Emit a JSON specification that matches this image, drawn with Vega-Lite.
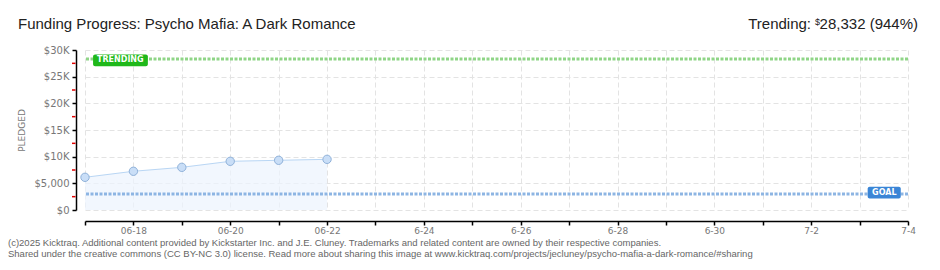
{
  "$schema": "https://vega.github.io/schema/vega-lite/v6.json",
  "width": 823,
  "height": 160,
  "autosize": {"type": "none"},
  "padding": {"left": 85, "top": 50, "right": 32, "bottom": 60},
  "background": "white",
  "config": {
    "view": {"stroke": null},
    "font": "Liberation Sans",
    "axis": {"labelOverlap": false}
  },
  "datasets": {
    "pledges": [
      {"date": "2025-06-17T00:00:00", "pledged": 6130},
      {"date": "2025-06-18T00:00:00", "pledged": 7260},
      {"date": "2025-06-19T00:00:00", "pledged": 8000},
      {"date": "2025-06-20T00:00:00", "pledged": 9130},
      {"date": "2025-06-21T00:00:00", "pledged": 9320},
      {"date": "2025-06-22T00:00:00", "pledged": 9500}
    ],
    "minorTicks": [{"v": 2500}, {"v": 7500}, {"v": 12500}, {"v": 17500}, {"v": 22500}, {"v": 27500}],
    "one": [{"k": 1}]
  },
  "data": {"name": "one"},
  "layer": [
    {
      "data": {"name": "pledges"},
      "mark": {"type": "area", "color": "#ecf4fd", "line": {"color": "#b9d6f4", "strokeWidth": 1}, "point": {"filled": true, "size": 70, "color": "#c9def7", "stroke": "#8fb1d9", "strokeWidth": 1, "opacity": 1}},
      "encoding": {
        "x": {
          "field": "date", "type": "temporal",
          "scale": {"domain": ["2025-06-17T00:00:00", "2025-07-04T00:00:00"]},
          "axis": {
            "title": null,
            "offset": 11,
            "tickCount": {"interval": "day", "step": 1},
            "labelExpr": "date(datum.value) % 2 == 1 ? '' : ((month(datum.value) == 5 && date(datum.value) <= 22) ? timeFormat(datum.value, '%m-%d') : (month(datum.value) + 1) + '-' + date(datum.value))",
            "labelFont": "DejaVu Sans",
            "labelFontSize": 9,
            "labelColor": "#777777",
            "labelPadding": 1,
            "labelFlush": false,
            "labelOverlap": false,
            "domainColor": "#000000",
            "domainWidth": 1.5,
            "tickColor": "#000000",
            "tickWidth": 1.5,
            "tickSize": 4,
            "grid": true,
            "gridColor": "#e3e3e3",
            "gridDash": [5, 3],
            "gridWidth": 1
          }
        },
        "y": {
          "field": "pledged", "type": "quantitative",
          "scale": {"domain": [0, 30000], "nice": false},
          "axis": {
            "title": "PLEDGED",
            "titleFont": "DejaVu Sans",
            "titleFontSize": 9,
            "titleFontWeight": "normal",
            "titleColor": "#777777",
            "titlePadding": 8,
            "offset": 9,
            "values": [0, 5000, 10000, 15000, 20000, 25000, 30000],
            "tickCount": 20,
            "labelExpr": "datum.value == 0 ? '$0' : (datum.value == 5000 ? '$5,000' : '$' + (datum.value / 1000) + 'K')",
            "labelFont": "DejaVu Sans",
            "labelFontSize": 10,
            "labelColor": "#777777",
            "labelPadding": 3,
            "labelFlush": false,
            "labelOverlap": false,
            "domainColor": "#000000",
            "domainWidth": 1.5,
            "tickColor": "#000000",
            "tickWidth": 1.5,
            "tickSize": 4,
            "grid": true,
            "gridColor": "#e3e3e3",
            "gridDash": [5, 3],
            "gridWidth": 1
          }
        }
      }
    },
    {
      "data": {"name": "minorTicks"},
      "mark": {"type": "rule", "color": "#e00000", "strokeWidth": 1.5, "xOffset": -13, "x2Offset": -9.5},
      "encoding": {
        "x": {"datum": {"year": 2025, "month": 6, "date": 17}, "type": "temporal"},
        "x2": {"datum": {"year": 2025, "month": 6, "date": 17}},
        "y": {"field": "v", "type": "quantitative"}
      }
    },
    {
      "mark": {"type": "rule", "color": "#8db5e3", "strokeWidth": 3, "strokeDash": [3, 1.5]},
      "encoding": {"y": {"datum": 3000, "type": "quantitative"}}
    },
    {
      "mark": {"type": "rule", "color": "#8fd587", "strokeWidth": 3, "strokeDash": [3, 1.5]},
      "encoding": {"y": {"datum": 28332, "type": "quantitative"}}
    },
    {
      "mark": {"type": "rect", "color": "#1fb81a", "cornerRadius": 2},
      "encoding": {
        "x": {"datum": {"year": 2025, "month": 6, "date": 17, "hours": 4}, "type": "temporal"},
        "x2": {"datum": {"year": 2025, "month": 6, "date": 18, "hours": 7, "minutes": 10}},
        "y": {"datum": 29170, "type": "quantitative"},
        "y2": {"datum": 26970}
      }
    },
    {
      "mark": {"type": "text", "text": "TRENDING", "color": "white", "font": "DejaVu Sans", "fontSize": 8, "fontWeight": "bold", "align": "center", "baseline": "middle"},
      "encoding": {
        "x": {"datum": {"year": 2025, "month": 6, "date": 17, "hours": 17, "minutes": 30}, "type": "temporal"},
        "y": {"datum": 28070, "type": "quantitative"}
      }
    },
    {
      "mark": {"type": "rect", "color": "#3a85d6", "cornerRadius": 2},
      "encoding": {
        "x": {"datum": {"year": 2025, "month": 7, "date": 3, "hours": 4}, "type": "temporal"},
        "x2": {"datum": {"year": 2025, "month": 7, "date": 3, "hours": 20, "minutes": 25}},
        "y": {"datum": 4360, "type": "quantitative"},
        "y2": {"datum": 2150}
      }
    },
    {
      "mark": {"type": "text", "text": "GOAL", "color": "white", "font": "DejaVu Sans", "fontSize": 8, "fontWeight": "bold", "align": "center", "baseline": "middle"},
      "encoding": {
        "x": {"datum": {"year": 2025, "month": 7, "date": 3, "hours": 12, "minutes": 15}, "type": "temporal"},
        "y": {"datum": 3200, "type": "quantitative"}
      }
    },
    {
      "mark": {"type": "text", "text": "Funding Progress: Psycho Mafia: A Dark Romance", "color": "#222222", "fontSize": 15, "align": "left", "baseline": "alphabetic", "dx": -67},
      "encoding": {
        "x": {"datum": {"year": 2025, "month": 6, "date": 17}, "type": "temporal"},
        "y": {"datum": 33940, "type": "quantitative"}
      }
    },
    {
      "mark": {"type": "text", "text": "Trending:", "color": "#222222", "fontSize": 15, "align": "right", "baseline": "alphabetic", "dx": -97},
      "encoding": {
        "x": {"datum": {"year": 2025, "month": 7, "date": 4}, "type": "temporal"},
        "y": {"datum": 33940, "type": "quantitative"}
      }
    },
    {
      "mark": {"type": "text", "text": "$", "color": "#222222", "fontSize": 9, "align": "right", "baseline": "alphabetic", "dx": -88, "dy": -4},
      "encoding": {
        "x": {"datum": {"year": 2025, "month": 7, "date": 4}, "type": "temporal"},
        "y": {"datum": 33940, "type": "quantitative"}
      }
    },
    {
      "mark": {"type": "text", "text": "28,332 (944%)", "color": "#222222", "fontSize": 15, "align": "right", "baseline": "alphabetic", "dx": 10},
      "encoding": {
        "x": {"datum": {"year": 2025, "month": 7, "date": 4}, "type": "temporal"},
        "y": {"datum": 33940, "type": "quantitative"}
      }
    },
    {
      "mark": {"type": "text", "text": "(c)2025 Kicktraq. Additional content provided by Kickstarter Inc. and J.E. Cluney. Trademarks and related content are owned by their respective companies.", "color": "#666666", "fontSize": 9.5, "align": "left", "baseline": "middle", "dx": -77},
      "encoding": {
        "x": {"datum": {"year": 2025, "month": 6, "date": 17}, "type": "temporal"},
        "y": {"datum": -6190, "type": "quantitative"}
      }
    },
    {
      "mark": {"type": "text", "text": "Shared under the creative commons (CC BY-NC 3.0) license. Read more about sharing this image at www.kicktraq.com/projects/jecluney/psycho-mafia-a-dark-romance/#sharing", "color": "#666666", "fontSize": 9.5, "align": "left", "baseline": "middle", "dx": -77},
      "encoding": {
        "x": {"datum": {"year": 2025, "month": 6, "date": 17}, "type": "temporal"},
        "y": {"datum": -8160, "type": "quantitative"}
      }
    }
  ]
}
